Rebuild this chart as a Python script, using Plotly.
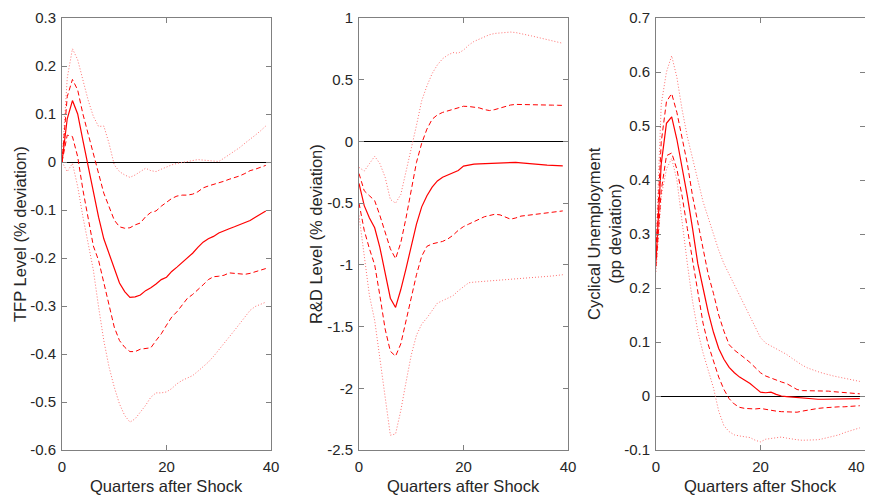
import plotly.graph_objects as go

quarters = list(range(40))

# ---- TFP level (% deviation) ----
tfp_median = [0, 0.09, 0.128, 0.1, 0.045, -0.01, -0.065, -0.115, -0.16, -0.19,
              -0.218, -0.252, -0.27, -0.282, -0.281, -0.277, -0.268, -0.262, -0.254, -0.245,
              -0.24, -0.228, -0.219, -0.21, -0.2, -0.19, -0.178, -0.167, -0.16, -0.155,
              -0.148, -0.143, -0.139, -0.135, -0.131, -0.127, -0.122, -0.115, -0.109, -0.102]
tfp_upper68 = [0, 0.136, 0.172, 0.15, 0.10, 0.06, 0.018, -0.024, -0.065, -0.093,
               -0.121, -0.135, -0.138, -0.137, -0.131, -0.127, -0.114, -0.105, -0.102, -0.092,
               -0.083, -0.076, -0.071, -0.069, -0.069, -0.067, -0.062, -0.054, -0.05, -0.047,
               -0.043, -0.04, -0.036, -0.033, -0.029, -0.024, -0.018, -0.015, -0.011, -0.007]
tfp_lower68 = [0, 0.056, 0.053, 0.011, -0.058, -0.12, -0.175, -0.205, -0.253, -0.302,
               -0.344, -0.372, -0.386, -0.395, -0.395, -0.39, -0.389, -0.387, -0.372, -0.358,
               -0.34, -0.323, -0.312, -0.298, -0.284, -0.276, -0.267, -0.256, -0.245, -0.239,
               -0.238, -0.236, -0.231, -0.232, -0.234, -0.234, -0.232, -0.229, -0.225, -0.222]
tfp_upper90 = [0, 0.175, 0.236, 0.213, 0.171, 0.129, 0.095, 0.074, 0.075, 0.039,
               -0.006, -0.02, -0.027, -0.032, -0.027, -0.02, -0.013, -0.018, -0.02, -0.015,
               -0.01, -0.006, -0.003, -0.001, 0.001, 0.003, 0.005, 0.004, 0.003, 0.001,
               0.001, 0.008, 0.015, 0.022, 0.03, 0.039, 0.047, 0.056, 0.065, 0.075]
tfp_lower90 = [0, -0.02, -0.003, -0.051, -0.114, -0.17, -0.225, -0.302, -0.372, -0.427,
               -0.469, -0.504, -0.528, -0.542, -0.535, -0.521, -0.507, -0.49, -0.481, -0.481,
               -0.479, -0.472, -0.462, -0.455, -0.45, -0.445, -0.436, -0.427, -0.417, -0.405,
               -0.392, -0.378, -0.365, -0.351, -0.337, -0.323, -0.309, -0.301, -0.297, -0.292]

# ---- R&D level (% deviation) ----
rd_median = [-0.34, -0.52, -0.62, -0.70, -0.86, -1.08, -1.27, -1.345, -1.20, -1.03,
             -0.85, -0.67, -0.53, -0.44, -0.37, -0.32, -0.29, -0.27, -0.255, -0.235,
             -0.20, -0.19, -0.184, -0.182, -0.18, -0.178, -0.175, -0.172, -0.17, -0.17,
             -0.17, -0.173, -0.178, -0.183, -0.187, -0.19, -0.192, -0.194, -0.196, -0.198]
rd_upper68 = [-0.26, -0.40, -0.44, -0.48, -0.60, -0.73, -0.87, -0.95, -0.82, -0.62,
              -0.40, -0.17, -0.015, 0.10, 0.18, 0.215, 0.235, 0.248, 0.26, 0.275,
              0.285, 0.283, 0.278, 0.272, 0.258, 0.25, 0.258, 0.27, 0.282, 0.295,
              0.30, 0.30, 0.30, 0.30, 0.298, 0.296, 0.295, 0.294, 0.293, 0.292]
rd_lower68 = [-0.50, -0.72, -0.87, -1.0, -1.25, -1.52, -1.70, -1.74, -1.64, -1.45,
              -1.26, -1.08, -0.93, -0.85, -0.83, -0.82, -0.81, -0.79, -0.76, -0.72,
              -0.69, -0.67, -0.65, -0.63, -0.61, -0.60, -0.59, -0.595, -0.61, -0.63,
              -0.62, -0.605, -0.60, -0.595, -0.59, -0.585, -0.58, -0.575, -0.568, -0.563]
rd_upper90 = [-0.21, -0.24, -0.18, -0.12, -0.18, -0.29, -0.47, -0.50, -0.43, -0.25,
              -0.05, 0.13, 0.33, 0.45, 0.55, 0.62, 0.67, 0.70, 0.72, 0.715,
              0.74, 0.78, 0.81, 0.83, 0.85, 0.865, 0.875, 0.88, 0.886, 0.886,
              0.882, 0.875, 0.865, 0.855, 0.845, 0.835, 0.825, 0.815, 0.805, 0.795]
rd_lower90 = [-0.60, -0.95, -1.25, -1.45, -1.76, -2.10, -2.38, -2.37, -2.18, -1.95,
              -1.73, -1.57, -1.48, -1.43, -1.37, -1.31, -1.29, -1.27, -1.25, -1.21,
              -1.18, -1.145, -1.14, -1.137, -1.134, -1.13, -1.127, -1.124, -1.12, -1.117,
              -1.114, -1.11, -1.107, -1.104, -1.10, -1.097, -1.093, -1.09, -1.085, -1.08]

# ---- Cyclical unemployment (pp deviation) ----
un_median = [0.25, 0.43, 0.505, 0.517, 0.475, 0.425, 0.37, 0.31, 0.245, 0.20,
             0.155, 0.118, 0.088, 0.068, 0.053, 0.043, 0.035, 0.029, 0.023, 0.015,
             0.007, 0.006, 0.007, 0.003, 0.0, -0.001, -0.002, -0.003, -0.004, -0.005,
             -0.006, -0.006, -0.006, -0.006, -0.006, -0.006, -0.006, -0.006, -0.005, -0.005]
un_upper68 = [0.27, 0.47, 0.545, 0.56, 0.525, 0.48, 0.43, 0.37, 0.32, 0.27,
              0.225, 0.19, 0.15, 0.12, 0.095, 0.085, 0.078, 0.07, 0.062, 0.052,
              0.043, 0.037, 0.033, 0.029, 0.026, 0.023, 0.018, 0.012, 0.01, 0.01,
              0.009, 0.009, 0.009, 0.009, 0.008, 0.007, 0.006, 0.005, 0.005, 0.004]
un_lower68 = [0.24, 0.38, 0.445, 0.45, 0.42, 0.37, 0.31, 0.25, 0.19, 0.135,
              0.095, 0.065, 0.035, 0.012, -0.005, -0.015, -0.021, -0.023, -0.024, -0.024,
              -0.023, -0.025, -0.027, -0.028, -0.029, -0.029, -0.03, -0.03, -0.028, -0.026,
              -0.024, -0.023, -0.022, -0.021, -0.021, -0.02, -0.02, -0.019, -0.019, -0.018]
un_upper90 = [0.28, 0.54, 0.60, 0.63, 0.59, 0.53, 0.48, 0.44, 0.40, 0.36,
              0.33, 0.30, 0.27, 0.245, 0.225, 0.205, 0.185, 0.165, 0.145, 0.125,
              0.108, 0.098, 0.093, 0.088, 0.083, 0.077, 0.07, 0.063, 0.057, 0.052,
              0.048, 0.045, 0.042, 0.039, 0.037, 0.035, 0.033, 0.031, 0.029, 0.027]
un_lower90 = [0.23, 0.37, 0.42, 0.44, 0.40, 0.32, 0.245, 0.175, 0.12, 0.08,
              0.048, 0.015, -0.028, -0.055, -0.066, -0.072, -0.074, -0.076, -0.077, -0.082,
              -0.085, -0.08, -0.079, -0.077, -0.076, -0.078, -0.08, -0.081, -0.082, -0.082,
              -0.082, -0.081, -0.079, -0.077, -0.075, -0.072, -0.068, -0.065, -0.062, -0.059]

x_tickvals = [0, 20, 40]
x_ticktext = ["0", "20", "40"]

panels = [
    dict(series=[tfp_lower90, tfp_upper90, tfp_lower68, tfp_upper68, tfp_median],
         yrange=[-0.6, 0.3], title="TFP Level (% deviation)",
         tickvals=[-0.6, -0.5, -0.4, -0.3, -0.2, -0.1, 0, 0.1, 0.2, 0.3],
         ticktext=["-0.6", "-0.5", "-0.4", "-0.3", "-0.2", "-0.1", "0", "0.1", "0.2", "0.3"]),
    dict(series=[rd_lower90, rd_upper90, rd_lower68, rd_upper68, rd_median],
         yrange=[-2.5, 1], title="R&D Level (% deviation)",
         tickvals=[-2.5, -2, -1.5, -1, -0.5, 0, 0.5, 1],
         ticktext=["-2.5", "-2", "-1.5", "-1", "-0.5", "0", "0.5", "1"]),
    dict(series=[un_lower90, un_upper90, un_lower68, un_upper68, un_median],
         yrange=[-0.1, 0.7], title="Cyclical Unemployment<br>(pp deviation)",
         tickvals=[-0.1, 0, 0.1, 0.2, 0.3, 0.4, 0.5, 0.6, 0.7],
         ticktext=["-0.1", "0", "0.1", "0.2", "0.3", "0.4", "0.5", "0.6", "0.7"]),
]

# The page body has an 8px default margin, so positions are given in window
# pixels and shifted by that offset into figure pixels.
OFF = 8
W, H = 873 - OFF, 496 - OFF
plot_left_px = [62, 359, 656]
plot_w_px = 209
top_px, bottom_px = 18, 450
ytitle_x_px = [20, 316, 604]

styles = [
    dict(color="#ff7070", width=1, dash="1px,2px"),
    dict(color="#ff7070", width=1, dash="1px,2px"),
    dict(color="#ff0000", width=1, dash="5px,3px"),
    dict(color="#ff0000", width=1, dash="5px,3px"),
    dict(color="#ff0000", width=1.2, dash="solid"),
]

fig = go.Figure()
font_family = "Liberation Sans, Arial, Helvetica, sans-serif"
axis_color = "#808080"
tick_font = dict(size=15, color="#262626", family=font_family)


def px_x(v):
    return (v - OFF) / W


def px_y(v):
    return 1 - (v - OFF) / H


for i, p in enumerate(panels):
    xa = "x" if i == 0 else f"x{i+1}"
    ya = "y" if i == 0 else f"y{i+1}"
    for s, st in zip(p["series"], styles):
        fig.add_trace(go.Scatter(x=quarters, y=s, mode="lines", line=st,
                                 xaxis=xa, yaxis=ya, showlegend=False,
                                 hoverinfo="skip"))
    xkey = "xaxis" if i == 0 else f"xaxis{i+1}"
    ykey = "yaxis" if i == 0 else f"yaxis{i+1}"
    # last panel: the right-most "40" would sit at the page edge, so it is
    # drawn as a separate label nudged inwards (as in the original figure)
    xt_text = x_ticktext if i < 2 else x_ticktext[:-1] + [""]
    fig.update_layout(**{
        xkey: dict(domain=[px_x(plot_left_px[i]), px_x(plot_left_px[i] + plot_w_px)],
                   range=[0, 40], anchor=ya,
                   tickvals=x_tickvals, ticktext=xt_text,
                   ticks="inside", ticklen=5, tickcolor=axis_color,
                   showline=True, linecolor=axis_color, linewidth=1, mirror="ticks",
                   showgrid=False, zeroline=False, ticklabelstandoff=3,
                   automargin=False, ticklabeloverflow="allow",
                   tickfont=tick_font),
        ykey: dict(domain=[px_y(bottom_px), px_y(top_px)], range=p["yrange"], anchor=xa,
                   tickvals=p["tickvals"], ticktext=p["ticktext"],
                   ticks="inside", ticklen=5, tickcolor=axis_color,
                   showline=True, linecolor=axis_color, linewidth=1, mirror="ticks",
                   showgrid=False, zeroline=True, zerolinecolor="#000000", zerolinewidth=1,
                   ticklabelstandoff=2, automargin=False, ticklabeloverflow="allow",
                   tickfont=tick_font),
    })
    if i == 2:
        fig.add_annotation(text=x_ticktext[-1], xref="paper", yref="paper",
                           x=px_x(865), y=px_y(466), xshift=-9,
                           showarrow=False, xanchor="center", yanchor="middle",
                           font=tick_font)
    fig.add_annotation(text="Quarters after Shock", xref="paper", yref="paper",
                       x=px_x(plot_left_px[i] + plot_w_px / 2), y=px_y(486),
                       showarrow=False, xanchor="center", yanchor="middle",
                       font=dict(size=16.5, color="#262626", family=font_family))
    fig.add_annotation(text=p["title"], xref="paper", yref="paper",
                       x=px_x(ytitle_x_px[i]), y=px_y(234), textangle=-90,
                       showarrow=False, xanchor="center", yanchor="middle",
                       font=dict(size=16.5, color="#262626", family=font_family))

fig.update_layout(width=W, height=H,
                  margin=dict(l=0, r=0, t=0, b=0, autoexpand=False),
                  paper_bgcolor="white", plot_bgcolor="white",
                  font=dict(family=font_family))

fig.write_html("out.html")
